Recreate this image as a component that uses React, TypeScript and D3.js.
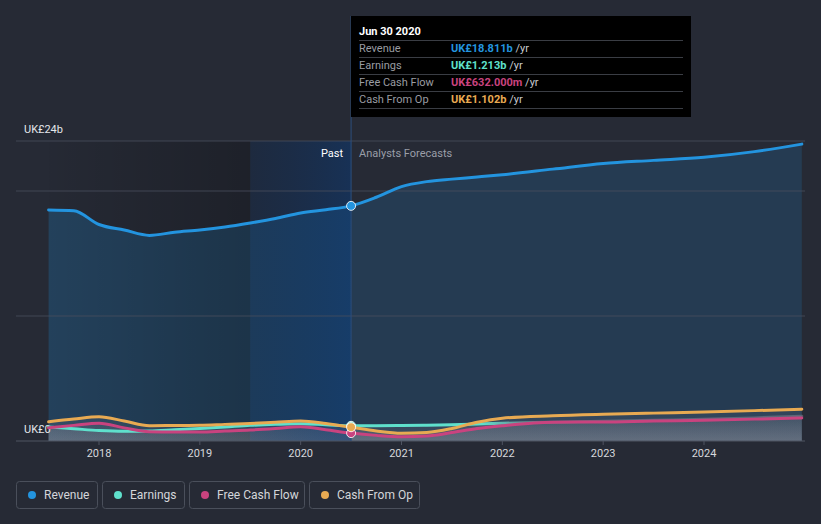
import React from "react";
import * as d3 from "d3";

const times = [2017.5, 2017.75, 2018, 2018.25, 2018.5, 2018.75, 2019, 2019.25, 2019.5, 2019.75, 2020, 2020.25, 2020.5, 2020.75, 2021, 2021.25, 2021.5, 2021.75, 2022, 2022.5, 2023, 2023.5, 2024, 2024.5, 2024.97];
const revenue = [18.48, 18.42, 17.32, 16.88, 16.45, 16.7, 16.88, 17.12, 17.44, 17.8, 18.24, 18.5, 18.811, 19.5, 20.35, 20.75, 20.95, 21.12, 21.3, 21.75, 22.2, 22.45, 22.7, 23.15, 23.75];
const earnings = [1.12, 0.98, 0.84, 0.78, 0.8, 0.9, 1.0, 1.12, 1.25, 1.33, 1.38, 1.3, 1.213, 1.22, 1.24, 1.26, 1.3, 1.36, 1.42, 1.5, 1.58, 1.66, 1.74, 1.85, 1.98];
const freeCashFlow = [1.06, 1.25, 1.42, 1.05, 0.74, 0.72, 0.72, 0.8, 0.88, 1.0, 1.14, 0.9, 0.632, 0.45, 0.34, 0.4, 0.68, 1.0, 1.22, 1.5, 1.52, 1.6, 1.66, 1.75, 1.84];
const cashFromOp = [1.54, 1.76, 1.94, 1.6, 1.22, 1.24, 1.26, 1.33, 1.4, 1.5, 1.6, 1.4, 1.102, 0.8, 0.62, 0.68, 1.0, 1.5, 1.82, 2.02, 2.14, 2.23, 2.32, 2.43, 2.54];

const xTicks = [2018, 2019, 2020, 2021, 2022, 2023, 2024];
const gridValues = [10, 20, 24];
const pastStart = 2017.5;
const highlightStart = 2019.5;
const currentTime = 2020.5;
const earningsFadeStart = 2021.8;
const earningsFadeEnd = 2022.5;

const seriesNames = ["Revenue", "Earnings", "Free Cash Flow", "Cash From Op"];
const seriesColors = ["#2394df", "#5fe0cc", "#c9437f", "#e8aa52"];
const tooltipValues = ["UK£18.811b", "UK£1.213b", "UK£632.000m", "UK£1.102b"];
const tooltipTitle = "Jun 30 2020";

const W = 821;
const H = 524;

export default function App() {
  const x = d3.scaleLinear().domain([2018, 2024]).range([99, 704]);
  const y = d3.scaleLinear().domain([0, 24]).range([441, 141]);
  const allSeries = [revenue, earnings, freeCashFlow, cashFromOp];
  const pts = (vals: number[]) => vals.map((v, i) => [times[i], v] as [number, number]);
  const line = (p: [number, number][]) =>
    d3.line<[number, number]>().x((d) => x(d[0])).y((d) => y(d[1])).curve(d3.curveMonotoneX)(p) || "";
  const area = (p: [number, number][]) =>
    d3.area<[number, number]>().x((d) => x(d[0])).y0(y(0)).y1((d) => y(d[1])).curve(d3.curveMonotoneX)(p) || "";
  const ci = times.indexOf(currentTime);
  const xL = 16, xR = 805;
  const font = "Roboto, 'Noto Sans', sans-serif";
  const revPts = pts(revenue);

  return (
    <div style={{ position: "absolute", left: 0, top: 0 }}>
      <style>{`body{margin:0;background:#262a35}`}</style>
      <svg width={W} height={H} style={{ display: "block", fontFamily: font }}>
        <defs>
          <linearGradient id="pastGrad" x1="0" x2="1" y1="0" y2="0">
            <stop offset="0" stopColor="#000" stopOpacity="0.02" />
            <stop offset="1" stopColor="#000" stopOpacity="0.22" />
          </linearGradient>
          <linearGradient id="hiGrad" x1="0" x2="1" y1="0" y2="0">
            <stop offset="0" stopColor="#0a2a55" stopOpacity="0.3" />
            <stop offset="1" stopColor="#0a3874" stopOpacity="0.52" />
          </linearGradient>
          <linearGradient id="lowGrad" x1="0" x2="0" y1="0" y2="1">
            <stop offset="0" stopColor="#9a9ca6" stopOpacity="0.08" />
            <stop offset="1" stopColor="#9a9ca6" stopOpacity="0.22" />
          </linearGradient>
          <linearGradient id="earnGrad" gradientUnits="userSpaceOnUse" x1={x(earningsFadeStart)} x2={x(earningsFadeEnd)} y1={0} y2={0}>
            <stop offset="0" stopColor={seriesColors[1]} stopOpacity="1" />
            <stop offset="1" stopColor="#8d919b" stopOpacity="0.45" />
          </linearGradient>
          <clipPath id="pastClip">
            <rect x={0} y={0} width={x(currentTime)} height={H} />
          </clipPath>
          <clipPath id="futClip">
            <rect x={x(currentTime)} y={0} width={W} height={H} />
          </clipPath>
        </defs>
        <rect x={0} y={0} width={W} height={H} fill="#262a35" />
        {/* revenue area */}
        <path d={area(revPts)} fill="#2394df" fillOpacity={0.24} clipPath="url(#pastClip)" />
        <path d={area(revPts)} fill="#2394df" fillOpacity={0.17} clipPath="url(#futClip)" />
        {/* lower areas */}
        {[earnings, freeCashFlow, cashFromOp].map((s, k) => (
          <path key={k} d={area(pts(s))} fill="url(#lowGrad)" />
        ))}
        {/* past overlays */}
        <rect x={x(pastStart)} y={y(24)} width={x(highlightStart) - x(pastStart)} height={y(0) - y(24)} fill="url(#pastGrad)" />
        <rect x={x(highlightStart)} y={y(24)} width={x(currentTime) - x(highlightStart)} height={y(0) - y(24)} fill="url(#hiGrad)" />
        {/* grid */}
        {gridValues.map((g) => (
          <line key={g} x1={xL} x2={xR} y1={y(g)} y2={y(g)} stroke="#4a4f5c" strokeOpacity={0.8} strokeWidth={1} />
        ))}
        <line x1={xL} x2={xR} y1={y(0)} y2={y(0)} stroke="#4f5462" strokeWidth={1} />
        {xTicks.map((t) => (
          <g key={t}>
            <line x1={x(t)} x2={x(t)} y1={y(0)} y2={y(0) + 4} stroke="#4f5462" />
            <text x={x(t)} y={457} fill="#d6d8dc" fontSize={11} textAnchor="middle">{t}</text>
          </g>
        ))}
        <text x={24} y={133} fill="#e4e6ea" fontSize={11}>UK£24b</text>
        <text x={24} y={433} fill="#e4e6ea" fontSize={11}>UK£0</text>
        {/* current vertical line */}
        <line x1={x(currentTime)} x2={x(currentTime)} y1={16} y2={y(0)} stroke="#2c4f7c" strokeWidth={1} />
        <text x={x(currentTime) - 8} y={157} fill="#ffffff" fontSize={11} textAnchor="end">Past</text>
        <text x={x(currentTime) + 8} y={157} fill="#9a9ea8" fontSize={11}>Analysts Forecasts</text>
        {/* lines */}
        <path d={line(pts(earnings))} fill="none" stroke="url(#earnGrad)" strokeWidth={3} strokeLinecap="round" />
        <path d={line(pts(freeCashFlow))} fill="none" stroke={seriesColors[2]} strokeWidth={3} strokeLinecap="round" />
        <path d={line(pts(cashFromOp))} fill="none" stroke={seriesColors[3]} strokeWidth={3} strokeLinecap="round" />
        <path d={line(revPts)} fill="none" stroke={seriesColors[0]} strokeWidth={3} strokeLinecap="round" />
        {/* dots */}
        {allSeries.map((s, k) => (
          <circle key={k} cx={x(currentTime)} cy={y(s[ci])} r={4.5} fill={seriesColors[k]} stroke="#ffffff" strokeOpacity={0.85} strokeWidth={1} />
        ))}
        {/* tooltip */}
        <g>
          <rect x={351} y={16} width={340} height={101} fill="#000000" />
          <text x={359} y={35} fill="#ffffff" fontSize={11} fontWeight="bold">{tooltipTitle}</text>
          {seriesNames.map((n, k) => (
            <g key={n}>
              <line x1={359} x2={683} y1={40.5 + k * 17} y2={40.5 + k * 17} stroke="#3a3d44" />
              <text x={359} y={52 + k * 17} fill="#9a9ca2" fontSize={11}>{n}</text>
              <text x={451} y={52 + k * 17} fontSize={11}>
                <tspan fill={seriesColors[k]} fontWeight="bold">{tooltipValues[k]}</tspan>
                <tspan fill="#c8cacf"> /yr</tspan>
              </text>
            </g>
          ))}
          <line x1={359} x2={683} y1={108.5} y2={108.5} stroke="#3a3d44" />
        </g>
        {/* legend */}
        {(() => {
          const boxes = [[16, 81], [102, 82], [189, 115], [309, 110]];
          return seriesNames.map((n, k) => (
            <g key={n}>
              <rect x={boxes[k][0] + 0.5} y={481.5} width={boxes[k][1]} height={27} rx={3} fill="none" stroke="#4a4f5b" />
              <circle cx={boxes[k][0] + 16} cy={495} r={4} fill={seriesColors[k]} />
              <text x={boxes[k][0] + 28} y={499} fill="#d4d6da" fontSize={12}>{n}</text>
            </g>
          ));
        })()}
      </svg>
    </div>
  );
}
